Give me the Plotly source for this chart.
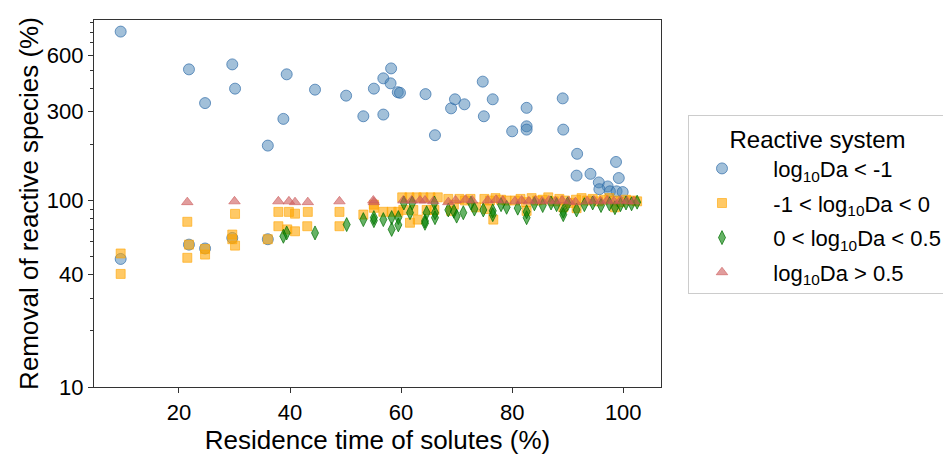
import plotly.graph_objects as go

# ---- data ----
blue_x = [9.5, 21.8, 24.7, 29.6, 30.1, 36.0, 38.8, 39.4, 44.5, 50.1, 53.2, 55.1, 56.8, 56.8,
          58.2, 58.1, 59.4, 59.8, 64.4, 66.1, 69.0, 69.7, 71.4, 74.7, 74.9, 76.5, 80.0, 82.6,
          82.6, 82.6, 89.1, 89.2, 91.7, 91.6, 94.1, 95.6, 97.2, 98.7, 99.2, 95.7, 97.6, 98.8,
          99.9, 9.5, 21.8, 24.7, 29.6, 36.0]
blue_y = [805, 505, 333, 537, 398, 197, 274, 475, 393, 365, 283, 398, 452, 289,
          511, 425, 381, 378, 372, 224, 312, 349, 328, 434, 283, 349, 235, 314,
          250, 240, 353, 240, 178, 136, 139, 125, 119, 161, 132, 115, 112, 112,
          111, 48.6, 58, 55.3, 63, 62]

orange_x = [9.5, 9.5, 21.5, 21.5, 21.8, 24.7, 24.7, 30.1, 29.6, 30.1, 29.6, 36.0, 37.9, 37.9,
            39.8, 40.9, 40.9, 39.5, 43.2, 43.1, 48.9, 48.9, 55.1, 53.2, 55.1, 56.8, 58.3, 59.5,
            60.2, 61.5, 62.8, 64.0, 65.3, 66.6, 60.4, 62.2, 64.6, 66.0, 63.0, 61.6,
            68.5, 69.5, 70.5, 71.5, 72.5, 73.5, 69.0,
            75.0, 76.0, 77.0, 78.0, 79.0, 76.6, 75.5,
            80.5, 81.5, 82.5, 83.5, 84.5, 85.5, 86.5, 87.5, 88.5, 89.5, 90.5, 91.5, 92.5, 93.5,
            94.5, 95.5, 96.5, 97.5, 98.5, 99.5, 100.5, 101.5, 102.5, 82.6, 89.2, 91.6, 98.5]
orange_y = [52, 40.4, 76.9, 49.3, 58, 55, 51.3, 84.8, 65.7, 57.3, 62, 62, 86.9, 72.8,
            86.9, 85, 68.4, 70, 86.9, 72.8, 86.9, 72.8, 91.4, 84.1, 95, 87, 87, 87,
            104, 104, 104, 104, 104, 104, 89, 89, 89, 89, 79, 76,
            102, 95, 102, 100, 102, 92, 88,
            102, 100, 103, 101, 100, 79, 90,
            100, 102, 98, 103, 100, 101, 104, 99, 102, 100, 97, 101, 103, 100,
            102, 99, 101, 103, 100, 98, 101, 100, 99, 88, 92, 91, 92]

green_x = [38.8, 39.4, 44.5, 50.2, 53.2, 55.1, 56.8, 58.3, 58.3, 59.5, 59.5, 55.1,
           60.5, 62.0, 66.0, 64.3, 66.1, 64.3, 61.6, 64.6, 66.1,
           68.5, 69.5, 71.2, 72.6, 70.0, 73.2,
           74.8, 76.5, 76.5, 78.0, 79.0,
           81.0, 82.6, 82.6, 84.0, 85.5, 87.0, 88.0, 89.2, 89.2, 90.0, 91.6, 93.0, 94.5,
           96.0, 97.5, 98.5, 99.5, 100.5, 101.5, 102.5]
green_y = [64.3, 67, 67, 74.3, 79, 78, 79, 81, 70, 81, 74, 81,
           97, 97, 97, 77.6, 80.9, 75.5, 86, 86, 86,
           89, 87.6, 86, 96.8, 82.5, 90,
           89, 88, 84, 95, 92,
           91, 80.9, 87, 96, 94, 97, 95, 87.6, 84, 96, 89, 95, 97,
           94, 96, 91.5, 95, 97, 96, 98]

red_x = [21.5, 30.0, 37.9, 39.8, 40.9, 43.2, 48.9, 55.1, 55.0,
         60.4, 61.9, 63.4, 64.3, 65.8,
         68.5, 69.8, 71.6, 72.8,
         75.6, 77.1, 78.3,
         80.5, 81.7, 83.0, 84.2, 85.4, 86.6, 87.8, 89.0, 90.2, 91.4, 93.5, 94.7, 95.9,
         97.1, 98.3, 99.5, 100.7, 101.9]
red_y = [98, 99, 99, 99, 98, 98, 99, 98, 100,
         100, 100, 100, 100, 99,
         98, 100, 101, 100,
         100, 101, 100,
         99, 100, 99, 100, 99, 100, 99, 100, 99, 98, 99, 100, 99,
         100, 99, 100, 99, 99]

series_names = ["log<sub>10</sub>Da &lt; -1",
                "-1 &lt; log<sub>10</sub>Da &lt; 0",
                "0 &lt; log<sub>10</sub>Da &lt; 0.5",
                "log<sub>10</sub>Da &gt; 0.5"]

y_ticks = [10, 40, 100, 300, 600]
y_minor = [20, 30, 50, 60, 70, 80, 90, 200, 400, 500, 700, 800, 900]
x_ticks = [20, 40, 60, 80, 100]

FONT = "Liberation Sans, Arial, sans-serif"
PAD = "&nbsp;&nbsp;&nbsp;"

fig = go.Figure()
specs = [
    (blue_x, blue_y, "circle", 11, "rgba(70,130,180,0.5)", "rgba(50,110,170,0.7)"),
    (orange_x, orange_y, "square", 9, "rgba(255,165,0,0.6)", "rgba(255,165,0,0.6)"),
    (green_x, green_y, "diamond-tall", 10, "rgba(0,128,0,0.6)", "rgba(0,110,0,0.7)"),
    (red_x, red_y, "triangle-up", 10, "rgba(205,92,92,0.6)", "rgba(205,92,92,0.6)"),
]
for i, (xs, ys, sym, sz, fc, lc) in enumerate(specs):
    fig.add_trace(go.Scatter(
        x=xs, y=ys, mode="markers", name=PAD + series_names[i], legendgroup=f"g{i}",
        marker=dict(symbol=sym, size=sz, color=fc, line=dict(color=lc, width=1)),
    ))

# page body has an 8px margin, so the figure is drawn 8px in from the top-left
fig.update_layout(
    width=943, height=447,
    margin=dict(l=86, r=290, t=12, b=68, autoexpand=False),
    plot_bgcolor="white", paper_bgcolor="white",
    font=dict(family=FONT, size=22, color="black"),
    showlegend=True,
    legend=dict(
        x=1.0476, y=0.74, xanchor="left", yanchor="top",
        bordercolor="#cccccc", borderwidth=1,
        font=dict(family=FONT, size=22, color="black"),
        title=dict(text="Reactive system", side="top center",
                   font=dict(family=FONT, size=24, color="black")),
        tracegroupgap=3,
        itemwidth=56,
    ),
)
fig.update_xaxes(
    range=[4.7, 106.8], tickmode="array", tickvals=x_ticks,
    ticks="outside", ticklen=5, tickwidth=1, tickcolor="#333",
    showline=True, linecolor="#333", linewidth=1.3, mirror=True,
    showgrid=False, zeroline=False, automargin=False,
    tickfont=dict(family=FONT, size=22),
    title=dict(text="Residence time of solutes (%)", font=dict(family=FONT, size=26), standoff=0),
)
fig.update_yaxes(
    type="log", range=[1, 2.968], tickmode="array", tickvals=y_ticks,
    ticktext=[str(v) for v in y_ticks],
    ticks="outside", ticklen=5, tickwidth=1, tickcolor="#333",
    minor=dict(tickmode="array", tickvals=y_minor, ticks="outside", ticklen=3,
               tickwidth=1, tickcolor="#333", showgrid=False),
    showline=True, linecolor="#333", linewidth=1.3, mirror=True,
    showgrid=False, zeroline=False, automargin=False,
    tickfont=dict(family=FONT, size=22),
    title=dict(text="Removal of reactive species (%)", font=dict(family=FONT, size=26), standoff=0),
)

fig.write_html("out.html")
